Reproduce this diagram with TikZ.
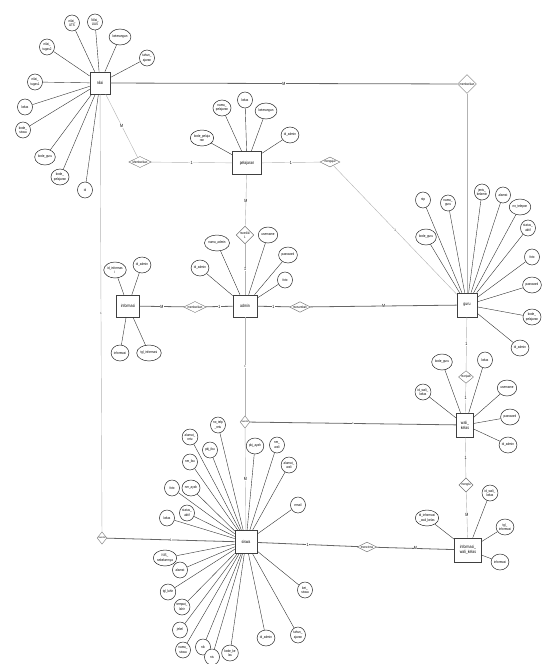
\documentclass[tikz,border=0pt]{standalone}
\usepackage{fontspec}
\setmainfont{Liberation Sans}[FakeStretch=0.8]
\usetikzlibrary{shapes.geometric}

\tikzset{
  entitas/.style={draw=black!75, line width=0.6pt, minimum width=20pt, minimum height=22pt,
    inner sep=1pt, font=\fontsize{4.4}{5}\selectfont, align=center, fill=white},
  atribut/.style={ellipse, draw=black!85, line width=0.5pt, inner sep=0.3pt, minimum width=15pt,
    minimum height=16pt, font=\fontsize{3.7}{4.4}\selectfont, align=center, fill=white},
  relasi/.style={diamond, draw=black!55, line width=0.4pt, aspect=2, inner sep=0.4pt,
    font=\fontsize{3.4}{3.8}\selectfont, align=center, fill=white},
  garis/.style={draw=black!60, line width=0.8pt},
  garistipis/.style={draw=black!30, line width=0.4pt},
  garisatr/.style={draw=black!80, line width=0.4pt},
  kard/.style={font=\fontsize{4.5}{5}\selectfont, fill=white, inner sep=0.3pt, midway},
}

\begin{document}
\begin{tikzpicture}[x=1pt, y=-1pt]
    \useasboundingbox (0,0) rectangle (547,664);

    % Entitas
    \node[entitas] (nilai) at (100,83) {nilai};
    \node[entitas, minimum width=29pt, minimum height=23pt] (pelajaran) at (247,163) {pelajaran};
    \node[entitas, minimum width=24pt] (admin) at (245,306) {admin};
    \node[entitas, minimum width=23pt] (informasi) at (128,306) {informasi};
    \node[entitas, minimum height=24pt] (guru) at (467,305) {guru};
    \node[entitas, minimum width=17pt, minimum height=24pt] (walikelas) at (465,425) {wali\_\\kelas};
    \node[entitas, minimum width=27pt, minimum height=24pt] (infowali) at (468,550) {informasi\_\\wali\_kelas};
    \node[entitas, minimum width=22pt, minimum height=23pt] (siswa) at (246,542) {siswa};

    % Atribut nilai
    \foreach \nm/\x/\y/\txt in {nUTS/72/23/{nilai\_\\UTS}, nUAS/95/22/{Nilai\_\\UAS},
        nKet/120/37/{keterangan}, nTahun/147/58/{tahun\_\\ajaran}, nTugasB/47/47/{nilai\_\\tugas2},
        nTugasA/35/82/{nilai\_\\tugas1}, nKelas/25/107/{kelas}, nKdSiswa/23/130/{kode\_\\siswa},
        nKdGuru/45/157/{kode\_guru}, nKdPel/60/177/{kode\_\\pelajaran}, nId/85/190/{id}} {
        \node[atribut] (\nm) at (\x,\y) {\txt};
        \draw[garisatr] (nilai) -- (\nm);
    }

    % Atribut pelajaran
    \foreach \nm/\x/\y/\txt in {pNama/222/108/{nama\_\\pelajaran}, pKelas/245/100/{kelas},
        pKet/266/111/{keterangan}, pKode/202/138/{kode\_pelaja\\ran}, pIdAdmin/290/135/{id\_admin}} {
        \node[atribut] (\nm) at (\x,\y) {\txt};
        \draw[garisatr] (pelajaran) -- (\nm);
    }

    % Atribut admin
    \foreach \nm/\x/\y/\txt in {aNama/217/243/{nama\_admin}, aUser/268/235/{username},
        aPass/288/255/{password}, aFoto/285/280/{foto}, aId/200/268/{id\_admin}} {
        \node[atribut] (\nm) at (\x,\y) {\txt};
        \draw[garisatr] (admin) -- (\nm);
    }

    % Atribut informasi
    \foreach \nm/\x/\y/\txt in {iId/115/270/{id\_informas\\i}, iAdmin/142/265/{id\_admin},
        iInfo/120/353/{informasi}, iTgl/149/353/{tgl\_informasi}} {
        \node[atribut] (\nm) at (\x,\y) {\txt};
        \draw[garisatr] (informasi) -- (\nm);
    }

    % Atribut guru
    \foreach \nm/\x/\y/\txt in {gNip/423/200/{nip}, gNama/448/203/{nama\_\\guru},
        gKode/426/237/{kode\_guru}, gJk/482/192/{jenis\_\\kelamin}, gAlamat/503/195/{alamat},
        gTelp/520/207/{no\_telepon}, gStatus/528/228/{status\_\\aktif}, gFoto/532/257/{foto},
        gPass/532/285/{password}, gKdPel/532/317/{kode\_\\pelajaran}, gIdAdmin/520/348/{id\_admin}} {
        \node[atribut] (\nm) at (\x,\y) {\txt};
        \draw[garisatr] (guru) -- (\nm);
    }

    % Atribut wali_kelas
    \foreach \nm/\x/\y/\txt in {wKdGuru/442/362/{kode\_guru}, wKelas/485/360/{kelas},
        wId/423/392/{id\_wali\_\\kelas}, wUser/507/388/{username}, wPass/510/417/{password},
        wAdmin/508/445/{id\_admin}} {
        \node[atribut] (\nm) at (\x,\y) {\txt};
        \draw[garisatr] (walikelas) -- (\nm);
    }

    % Atribut informasi_wali_kelas
    \foreach \nm/\x/\y/\txt in {fId/427/518/{id\_informasi\\\_wali\_kelas}, fWali/490/493/{id\_wali\_\\kelas},
        fTgl/505/527/{tgl\_\\informasi}, fInfo/500/562/{informasi}} {
        \node[atribut] (\nm) at (\x,\y) {\txt};
        \draw[garisatr] (infowali) -- (\nm);
    }

    % Atribut siswa
    \foreach \nm/\x/\y/\txt in {sTelpOrtu/218/425/{no\_telp\\\_ortu}, sAlmOrtu/190/437/{alamat\_\\ortu},
        sPkjIbu/210/450/{pkj\_ibu}, sNmIbu/190/462/{nm\_ibu}, sFoto/172/488/{foto},
        sNmAyah/191/488/{nm\_ayah}, sStatus/187/513/{status\_\\aktif}, sKelas/167/518/{kelas},
        sPkjAyah/255/446/{pkj\_ayah}, sNmWali/277/445/{nm\_\\wali}, sAlmWali/289/465/{alamat\_\\wali},
        sEmail/298/505/{email}, sNisSeb/165/558/{NIS\_\\sebelumnya}, sAlamat/180/570/{alamat},
        sTgl/168/592/{tgl\_lahir}, sTempat/182/607/{tempat\_\\lahir}, sJekel/180/630/{jekel},
        sNama/183/650/{nama\_\\siswa}, sNik/203/647/{nik}, sNis/212/657/{nis},
        sKdKelas/230/653/{kode\_ke\\las}, sIdAdmin/266/638/{id\_admin},
        sTahun/298/635/{tahun\_\\ajaran}, sKet/305/590/{ket\_\\siswa}} {
        \node[atribut] (\nm) at (\x,\y) {\txt};
        \draw[garisatr] (siswa) -- (\nm);
    }

    % Relasi
    \node[relasi, aspect=1] (rNilaiGuru) at (467,84) {memberikan};
    \node[relasi] (rNilaiPel) at (140,162) {Memberikan};
    \node[relasi] (rPelGuru) at (330,162) {mengajar};
    \node[relasi, aspect=1] (rPelAdmin) at (245,235) {memiliki\\1};
    \node[relasi] (rAdminInfo) at (195,307) {memberikan};
    \node[relasi] (rAdminGuru) at (300,307) {menambah};
    \node[relasi, aspect=1.2] (rGuruWali) at (466,377) {menjadi};
    \node[relasi, aspect=1] (rWaliInfo) at (466,485) {mengisi};
    \node[relasi] (rInfoSiswa) at (367,547) {menerima};
    \node[relasi, aspect=0.8, font=\fontsize{2.4}{2.8}\selectfont] (rAdminSiswa) at (245,422) {memiliki};
    \node[relasi, aspect=0.8, font=\fontsize{2.4}{2.8}\selectfont] (rNilaiSiswa) at (102,538) {memiliki};

    % Garis relasi
    \draw[garis] (nilai) -- node[kard] {M} (rNilaiGuru);
    \draw[garistipis] (rNilaiGuru) -- (guru);
    \draw[garistipis] (nilai) -- node[kard] {M} (rNilaiPel);
    \draw[garistipis] (rNilaiPel) -- node[kard] {1} (pelajaran);
    \draw[garistipis] (pelajaran) -- node[kard] {1} (rPelGuru);
    \draw[garistipis] (rPelGuru) -- node[kard, font=\fontsize{3.5}{4}\selectfont] {1} (guru);
    \draw[garistipis] (pelajaran) -- node[kard] {M} (rPelAdmin);
    \draw[garistipis] (rPelAdmin) -- node[kard] {1} (admin);
    \draw[garistipis] (admin) -- node[kard, font=\fontsize{3}{3.5}\selectfont] {1} (rAdminSiswa);
    \draw[garistipis] (rAdminSiswa) -- node[kard] {M} (siswa);
    \draw[garis] (rAdminSiswa) -- node[kard, font=\fontsize{3}{3.5}\selectfont] {1} (walikelas);
    \draw[garis] (admin) -- node[kard] {1} (rAdminInfo);
    \draw[garis] (rAdminInfo) -- node[kard] {M} (informasi);
    \draw[garis] (admin) -- node[kard] {1} (rAdminGuru);
    \draw[garis] (rAdminGuru) -- node[kard] {M} (guru);
    \draw[garistipis] (guru) -- node[kard] {1} (rGuruWali);
    \draw[garistipis] (rGuruWali) -- node[kard] {1} (walikelas);
    \draw[garistipis] (walikelas) -- node[kard] {1} (rWaliInfo);
    \draw[garistipis] (rWaliInfo) -- node[kard] {M} (infowali);
    \draw[garis] (siswa) -- node[kard] {1} (rInfoSiswa);
    \draw[garis] (rInfoSiswa) -- node[kard] {M} (infowali);
    \draw[garistipis] (nilai) -- node[kard, font=\fontsize{3}{3.5}\selectfont] {1} (rNilaiSiswa);
    \draw[garis] (rNilaiSiswa) -- node[kard, font=\fontsize{3.5}{4}\selectfont] {1} (siswa);
\end{tikzpicture}
\end{document}
